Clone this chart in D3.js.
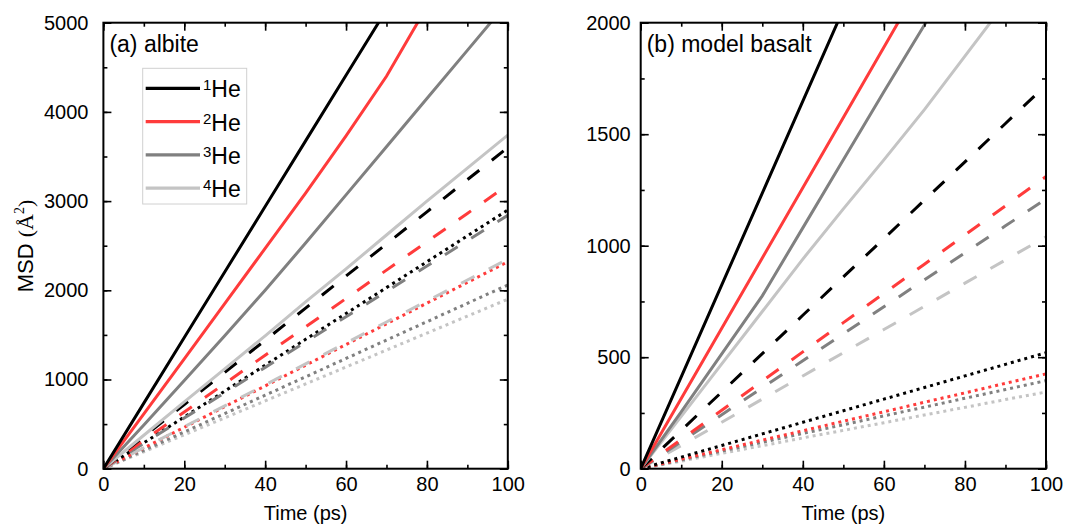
<!DOCTYPE html>
<html>
<head>
<meta charset="utf-8">
<script src="https://cdn.jsdelivr.net/npm/d3@7"></script>
<style>
  body { margin: 0; background: #fff; }
  svg { display: block; font-family: "Liberation Sans", Arial, sans-serif; }
</style>
</head>
<body>
<svg id="chart" width="1080" height="527"></svg>
<script>
// Sampling times (ps) shared by every MSD curve
const timePs = [0, 10, 20, 30, 40, 50, 60, 70, 80, 90, 100];

// Isotope mass labels and their line colours
const isotopeMass = ["1", "2", "3", "4"];
const isotopeColors = ["#000000", "#ff3b3b", "#808080", "#c4c4c4"];

// Axis tick values
const timeTicks = [0, 20, 40, 60, 80, 100];
const albiteTicks = [0, 1000, 2000, 3000, 4000, 5000];
const basaltTicks = [0, 500, 1000, 1500, 2000];

// (a) albite — MSD (Å²), one row per isotope (1He..4He)
const albiteSolid = [
  [0, 735, 1470, 2205, 2940, 3675, 4410, 5145, 5880, 6615, 7350],
  [0, 615, 1230, 1850, 2470, 3090, 3730, 4400, 5180, 5950, 6700],
  [0, 490, 990, 1490, 2000, 2530, 3070, 3610, 4150, 4690, 5230],
  [0, 375, 750, 1120, 1490, 1870, 2240, 2620, 3000, 3370, 3740]
];
const albiteDashed = [
  [0, 360, 720, 1080, 1440, 1800, 2160, 2520, 2880, 3240, 3600],
  [0, 318, 636, 954, 1272, 1590, 1908, 2226, 2544, 2862, 3180],
  [0, 284, 568, 852, 1136, 1420, 1704, 1988, 2272, 2556, 2840],
  [0, 235, 470, 705, 940, 1175, 1410, 1645, 1880, 2115, 2350]
];
const albiteDotted = [
  [0, 290, 580, 870, 1160, 1450, 1740, 2030, 2320, 2610, 2900],
  [0, 232, 464, 696, 928, 1160, 1392, 1624, 1856, 2088, 2320],
  [0, 206, 412, 618, 824, 1030, 1236, 1442, 1648, 1854, 2060],
  [0, 190, 380, 570, 760, 950, 1140, 1330, 1520, 1710, 1900]
];

// (b) model basalt — MSD (Å²), one row per isotope (1He..4He)
const basaltSolid = [
  [0, 412, 824, 1236, 1648, 2060, 2472, 2884, 3296, 3708, 4120],
  [0, 315, 630, 945, 1260, 1575, 1890, 2205, 2520, 2835, 3150],
  [0, 255, 515, 775, 1080, 1385, 1690, 1990, 2300, 2600, 2900],
  [0, 235, 470, 705, 940, 1165, 1385, 1610, 1850, 2090, 2330]
];
const basaltDashed = [
  [0, 172, 344, 516, 688, 860, 1032, 1204, 1376, 1548, 1720],
  [0, 131, 262, 393, 524, 655, 786, 917, 1048, 1179, 1310],
  [0, 121, 242, 363, 484, 605, 726, 847, 968, 1089, 1210],
  [0, 104, 208, 312, 416, 520, 624, 728, 832, 936, 1040]
];
const basaltDotted = [
  [0, 52, 104, 156, 208, 260, 312, 364, 416, 468, 520],
  [0, 43, 85, 128, 170, 213, 255, 298, 340, 383, 425],
  [0, 39, 79, 118, 158, 197, 237, 276, 316, 355, 395],
  [0, 34, 69, 103, 138, 172, 206, 241, 275, 310, 344]
];

const lineStyles = {
  solid: null,
  dashed: "15,16",
  dotted: "3,4"
};

const svg = d3.select("#chart");
const plotTop = 22.7, plotBottom = 468.7;

function drawPanel(cfg) {
  const x = d3.scaleLinear().domain([0, 100]).range([cfg.left, cfg.right]);
  const y = d3.scaleLinear().domain([0, cfg.yMax]).range([plotBottom, plotTop]);
  const g = svg.append("g");

  const clipId = "clip-" + cfg.id;
  svg.append("clipPath").attr("id", clipId)
    .append("rect")
    .attr("x", cfg.left).attr("y", plotTop)
    .attr("width", cfg.right - cfg.left).attr("height", plotBottom - plotTop);

  const line = d3.line()
    .x((d, i) => x(timePs[i]))
    .y(d => y(d));

  const plot = g.append("g").attr("clip-path", `url(#${clipId})`);
  const groups = [
    ["dotted", cfg.dotted],
    ["dashed", cfg.dashed],
    ["solid", cfg.solid]
  ];
  groups.forEach(([style, rows]) => {
    rows.slice().reverse().forEach((vals, ri) => {
      const k = rows.length - 1 - ri;
      plot.append("path")
        .datum(vals)
        .attr("d", line)
        .attr("fill", "none")
        .attr("stroke", isotopeColors[k])
        .attr("stroke-width", 3)
        .attr("stroke-dasharray", lineStyles[style]);
    });
  });

  // Axes with inward ticks on all four sides
  const minorX = d3.range(0, 101, 10);
  const minorY = d3.range(0, cfg.yMax + 1, cfg.yMinor);
  const fmt = d3.format("d");

  const axisStyle = sel => {
    sel.select(".domain").remove();
    sel.selectAll(".tick line").attr("stroke", "#000").attr("stroke-width", 1.6);
    sel.selectAll(".tick text").attr("fill", "#000").attr("font-size", 20)
      .attr("font-family", "'Liberation Sans', Arial, sans-serif");
  };

  g.append("g").attr("transform", `translate(0,${plotBottom})`)
    .call(d3.axisBottom(x).tickValues(minorX).tickSize(-4).tickFormat(""))
    .call(axisStyle);
  g.append("g").attr("transform", `translate(0,${plotBottom})`)
    .call(d3.axisBottom(x).tickValues(timeTicks).tickSize(-8).tickPadding(8).tickFormat(fmt))
    .call(axisStyle);
  g.append("g").attr("transform", `translate(0,${plotTop})`)
    .call(d3.axisTop(x).tickValues(minorX).tickSize(-4).tickFormat(""))
    .call(axisStyle);
  g.append("g").attr("transform", `translate(0,${plotTop})`)
    .call(d3.axisTop(x).tickValues(timeTicks).tickSize(-8).tickFormat(""))
    .call(axisStyle);

  g.append("g").attr("transform", `translate(${cfg.left},0)`)
    .call(d3.axisLeft(y).tickValues(minorY).tickSize(-4).tickFormat(""))
    .call(axisStyle);
  g.append("g").attr("transform", `translate(${cfg.left},0)`)
    .call(d3.axisLeft(y).tickValues(cfg.ticks).tickSize(-8).tickPadding(cfg.yPad).tickFormat(fmt))
    .call(axisStyle);
  g.append("g").attr("transform", `translate(${cfg.right},0)`)
    .call(d3.axisRight(y).tickValues(minorY).tickSize(-4).tickFormat(""))
    .call(axisStyle);
  g.append("g").attr("transform", `translate(${cfg.right},0)`)
    .call(d3.axisRight(y).tickValues(cfg.ticks).tickSize(-8).tickFormat(""))
    .call(axisStyle);

  // Frame
  g.append("rect")
    .attr("x", cfg.left).attr("y", plotTop)
    .attr("width", cfg.right - cfg.left).attr("height", plotBottom - plotTop)
    .attr("fill", "none").attr("stroke", "#000").attr("stroke-width", 2);

  // Panel title
  g.append("text")
    .attr("x", cfg.left + 6).attr("y", 52)
    .attr("font-size", 23).attr("fill", "#000")
    .text(cfg.title);

  // X axis title
  g.append("text")
    .attr("x", (cfg.left + cfg.right) / 2).attr("y", 520)
    .attr("text-anchor", "middle").attr("font-size", 20).attr("fill", "#000")
    .text("Time (ps)");

  return { x, y, g };
}

drawPanel({
  id: "albite", left: 103.4, right: 507.8, yMax: 5000, yMinor: 500, yPad: 15,
  ticks: albiteTicks, title: "(a) albite",
  solid: albiteSolid, dashed: albiteDashed, dotted: albiteDotted
});
drawPanel({
  id: "basalt", left: 640.7, right: 1046, yMax: 2000, yMinor: 250, yPad: 10,
  ticks: basaltTicks, title: "(b) model basalt",
  solid: basaltSolid, dashed: basaltDashed, dotted: basaltDotted
});

// Y axis title
const yTitle = svg.append("text")
  .attr("transform", "translate(33,246) rotate(-90)")
  .attr("text-anchor", "middle").attr("font-size", 22).attr("fill", "#000");
yTitle.append("tspan").text("MSD ");
yTitle.append("tspan").attr("font-family", "'Liberation Serif', serif").text("(Å");
yTitle.append("tspan").attr("font-family", "'Liberation Serif', serif")
  .attr("font-size", 14).attr("dy", -9).text("2");
yTitle.append("tspan").attr("font-family", "'Liberation Serif', serif")
  .attr("dy", 9).text(")");

// Legend
const legend = svg.append("g");
legend.append("rect")
  .attr("x", 142.7).attr("y", 68.3).attr("width", 104).attr("height", 135.7)
  .attr("fill", "#fff").attr("stroke", "#d0d0d0").attr("stroke-width", 1);
isotopeMass.forEach((m, i) => {
  const yy = 88.3 + i * 33.3;
  legend.append("line")
    .attr("x1", 145.7).attr("x2", 200).attr("y1", yy).attr("y2", yy)
    .attr("stroke", isotopeColors[i]).attr("stroke-width", 3.2);
  const t = legend.append("text")
    .attr("x", 203).attr("y", yy + 9).attr("font-size", 23).attr("fill", "#000");
  t.append("tspan").attr("font-size", 15).attr("dy", -7).text(m);
  t.append("tspan").attr("dy", 7).text("He");
});
</script>
</body>
</html>
